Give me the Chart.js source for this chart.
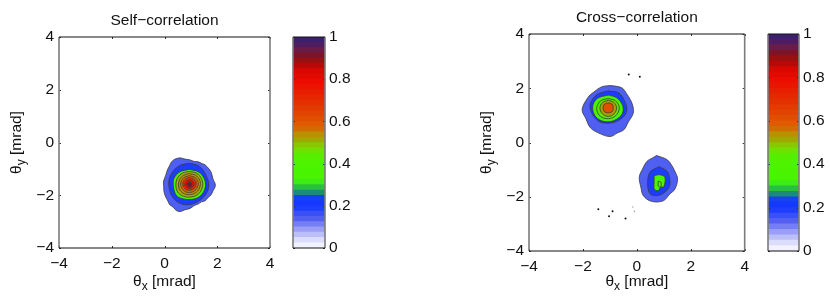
<!DOCTYPE html>
<html>
<head>
<meta charset="utf-8">
<title>Self- and cross-correlation</title>
<script src="https://cdn.jsdelivr.net/npm/chart.js@4/dist/chart.umd.min.js"></script>
<style>
        html, body { margin: 0; padding: 0; background: #fff; }
        body { width: 830px; height: 303px; position: relative; overflow: hidden; }
        canvas { position: absolute; top: 0; }
</style>
</head>
<body>
<canvas id="self_map" width="285" height="303" style="left:0"></canvas>
<canvas id="self_bar" width="75" height="303" style="left:285px"></canvas>
<canvas id="cross_map" width="285" height="303" style="left:470px"></canvas>
<canvas id="cross_bar" width="70" height="303" style="left:760px"></canvas>
<script>
const axis_ticks = [-4, -2, 0, 2, 4];
const bar_ticks = [0, 0.2, 0.4, 0.6, 0.8, 1];

// contour outlines in mrad, [theta_x, theta_y], outermost first
const self_level_1 = [[0.59,-0.58],[0.78,-0.63],[0.97,-0.66],[1.13,-0.72],[1.28,-0.73],[1.42,-0.8],[1.54,-0.85],[1.66,-0.97],[1.76,-1.11],[1.81,-1.27],[1.85,-1.42],[1.92,-1.56],[1.92,-1.68],[1.84,-1.83],[1.76,-1.99],[1.66,-2.08],[1.54,-2.21],[1.4,-2.25],[1.28,-2.33],[1.13,-2.39],[0.97,-2.5],[0.78,-2.55],[0.59,-2.62],[0.45,-2.58],[0.34,-2.46],[0.2,-2.36],[0.11,-2.18],[0.03,-2.03],[-0.02,-1.86],[-0.03,-1.67],[-0.04,-1.49],[0.04,-1.26],[0.11,-1.04],[0.2,-0.86],[0.27,-0.73],[0.42,-0.62]];
const self_level_2 = [[0.9,-0.79],[1.16,-0.83],[1.37,-0.94],[1.57,-1.23],[1.68,-1.61],[1.55,-1.99],[1.19,-2.28],[0.78,-2.36],[0.42,-2.2],[0.21,-1.86],[0.17,-1.42],[0.34,-1.07],[0.59,-0.87]];
const self_level_3 = [[0.94,-1.02],[1.28,-1.11],[1.5,-1.36],[1.55,-1.68],[1.37,-2.02],[1.03,-2.16],[0.65,-2.12],[0.44,-1.99],[0.34,-1.68],[0.36,-1.36],[0.59,-1.11]];
const self_level_4 = [[0.94,-1.1],[1.22,-1.16],[1.4,-1.37],[1.45,-1.62],[1.32,-1.92],[1.04,-2.06],[0.72,-2.04],[0.5,-1.88],[0.43,-1.6],[0.5,-1.33],[0.68,-1.16]];
const self_level_5 = [[0.94,-1.18],[1.18,-1.24],[1.33,-1.42],[1.36,-1.6],[1.26,-1.84],[1.02,-1.97],[0.76,-1.95],[0.58,-1.8],[0.53,-1.58],[0.6,-1.36],[0.73,-1.24]];
const self_level_6 = [[0.94,-1.26],[1.13,-1.31],[1.25,-1.44],[1.28,-1.6],[1.2,-1.78],[1,-1.89],[0.8,-1.87],[0.66,-1.74],[0.61,-1.58],[0.67,-1.4],[0.8,-1.3]];
const self_level_7 = [[0.94,-1.33],[1.09,-1.37],[1.18,-1.47],[1.2,-1.6],[1.14,-1.73],[0.98,-1.81],[0.83,-1.79],[0.73,-1.7],[0.69,-1.58],[0.74,-1.44],[0.84,-1.36]];
const self_level_8 = [[0.94,-1.41],[1.05,-1.44],[1.11,-1.52],[1.12,-1.6],[1.07,-1.69],[0.96,-1.74],[0.86,-1.72],[0.79,-1.66],[0.77,-1.58],[0.81,-1.48],[0.87,-1.43]];
const self_level_9 = [[0.94,-1.5],[1,-1.52],[1.03,-1.58],[1.02,-1.64],[0.96,-1.67],[0.89,-1.65],[0.86,-1.59],[0.88,-1.53]];

const cross_a_level_1 = [[-1,2.1],[-0.75,2.07],[-0.53,2],[-0.38,1.8],[-0.24,1.58],[-0.14,1.31],[-0.14,1.06],[-0.32,0.75],[-0.48,0.47],[-0.73,0.35],[-0.98,0.22],[-1.35,0.32],[-1.72,0.54],[-1.89,0.88],[-2.03,1.22],[-1.8,1.68],[-1.62,1.84],[-1.31,2.05]];
const cross_a_level_2 = [[-1.06,1.9],[-0.69,1.84],[-0.48,1.58],[-0.37,1.21],[-0.53,0.91],[-0.91,0.73],[-1.35,0.75],[-1.62,1],[-1.74,1.37],[-1.56,1.7],[-1.31,1.84]];
const cross_a_level_3 = [[-1.06,1.75],[-0.75,1.65],[-0.53,1.37],[-0.54,1.06],[-0.82,0.82],[-1.19,0.77],[-1.52,0.94],[-1.64,1.31],[-1.47,1.62]];
const cross_a_level_4 = [[-1.06,1.62],[-0.78,1.53],[-0.65,1.27],[-0.78,0.99],[-1.06,0.88],[-1.35,0.96],[-1.49,1.25],[-1.35,1.53]];
const cross_a_level_5 = [[-1.06,1.56],[-0.84,1.47],[-0.75,1.27],[-0.84,1.06],[-1.06,0.96],[-1.28,1.06],[-1.37,1.27],[-1.28,1.47]];
const cross_a_level_6 = [[-1.06,1.46],[-0.91,1.41],[-0.88,1.27],[-0.91,1.14],[-1.06,1.09],[-1.21,1.14],[-1.25,1.27],[-1.21,1.41]];
const cross_b_level_1 = [[0.73,-0.48],[0.91,-0.54],[1.12,-0.63],[1.28,-0.82],[1.41,-1.06],[1.51,-1.35],[1.41,-1.72],[1.22,-1.9],[0.98,-2.15],[0.54,-2.17],[0.24,-1.96],[0.15,-1.65],[0.09,-1.28],[0.21,-0.98],[0.38,-0.69],[0.58,-0.57]];
const cross_b_level_2 = [[0.83,-0.89],[1.12,-1.06],[1.22,-1.35],[1.2,-1.63],[1,-1.86],[0.73,-1.96],[0.48,-1.88],[0.4,-1.47],[0.48,-1.1],[0.64,-0.98]];
const cross_b_level_3 = [[0.64,-1.22],[0.85,-1.19],[1.04,-1.28],[1,-1.63],[0.88,-1.65],[0.79,-1.78],[0.65,-1.72],[0.64,-1.47]];
const cross_b_level_4 = [[0.79,-1.43],[0.89,-1.46],[0.89,-1.63],[0.8,-1.61]];
const cross_specks = [[-0.3,2.51],[0.11,2.42],[-1.43,-2.46],[-0.9,-2.53],[-1.03,-2.72],[-0.42,-2.8]];
const cross_faint_specks = [[-0.15,-2.38],[-0.09,-2.54]];

// colorbar bands, upper edge of each band
const band_tops = [0.025,0.05,0.075,0.1,0.125,0.15,0.175,0.2,0.225,0.25,0.275,0.3,0.325,0.35,0.375,0.4,0.425,0.45,0.475,0.5,0.525,0.55,0.575,0.6,0.625,0.65,0.675,0.7,0.725,0.75,0.775,0.8,0.825,0.85,0.875,0.9,0.925,0.95,0.975,1];
const band_colors = ["#f2f2ff","#dcdcfc","#bcbef9","#9a9ef6","#767ef3","#525ff0","#3850f6","#1d3eff","#1538ff","#1442f0","#1c8c78","#28c040","#3cec14","#48f400","#4af400","#4cf400","#50f200","#58ec00","#70e000","#88c800","#a0a800","#b89000","#d06c00","#e05a00","#e04e00","#e04400","#e23a00","#e43000","#e62800","#e81e00","#ea1400","#ec0c00","#e20a00","#d80800","#b80808","#981010","#7c1428","#6a1c48","#4e1c60","#3c2070"];

// fill of each contour band
const self_fills = ["#4f5ff2","#1c3cff","#48f400","#a0b000","#b89000","#d86800","#e43000","#e00c00","#701838"];
const cross_a_fills = ["#4f5ff2","#1c3cff","#48f400","#60e800","#a8a000","#e05000"];
const cross_b_fills = ["#4f5ff2","#1c3cff","#48f400","#60e800"];

function contour_datasets(levels, fills) {
        var sets = [];
        for (let i = 0; i < levels.length; i++) {
                sets.push({
                        data: levels[i].concat([levels[i][0]]), // close the outline
                        showLine: true,
                        fill: "shape",
                        tension: 0.35,
                        backgroundColor: fills[i],
                        borderColor: "#3a3a3a",
                        borderWidth: 0.8,
                        pointRadius: 0,
                        order: 1000 - i,
                });
        }
        return sets;
}

function speck_dataset(points, color, size) {
        return { data: points, showLine: false, pointRadius: size, pointBorderWidth: 0, pointBackgroundColor: color, order: 1 };
}

function minus(v) {
        return String(v).replace("-", "\u2212");
}

// matlab style frame: inward ticks on both sides
const frame_plugin = {
        id: "frame",
        afterDraw(chart) {
                const a = chart.chartArea;
                const ctx = chart.ctx;
                ctx.save();
                ctx.strokeStyle = "#333";
                ctx.lineWidth = 1;
                for (const key in chart.scales) {
                        const s = chart.scales[key];
                        if (!s.options.display) continue;
                        for (const t of s.ticks) {
                                const p = Math.round(s.getPixelForValue(t.value)) + 0.5;
                                ctx.beginPath();
                                if (s.isHorizontal()) {
                                        ctx.moveTo(p, a.top); ctx.lineTo(p, a.top + 2);
                                        ctx.moveTo(p, a.bottom); ctx.lineTo(p, a.bottom - 2);
                                } else {
                                        ctx.moveTo(a.left, p); ctx.lineTo(a.left + 2, p);
                                        ctx.moveTo(a.right, p); ctx.lineTo(a.right - 2, p);
                                }
                                ctx.stroke();
                        }
                }
                ctx.strokeStyle = "#7c7c7c";
                ctx.lineWidth = 1.6;
                ctx.beginPath();
                ctx.moveTo(a.left, a.top); ctx.lineTo(a.left, a.bottom);
                ctx.moveTo(a.right, a.top); ctx.lineTo(a.right, a.bottom);
                ctx.stroke();
                ctx.strokeStyle = "#111";
                ctx.lineWidth = 1;
                ctx.beginPath();
                ctx.moveTo(a.left, a.top); ctx.lineTo(a.right, a.top);
                ctx.moveTo(a.left, a.bottom); ctx.lineTo(a.right, a.bottom);
                ctx.stroke();
                ctx.restore();
        }
};

// axis names need a subscript, which scale titles can't do
const labels_plugin = {
        id: "labels",
        afterDraw(chart) {
                const a = chart.chartArea;
                const ctx = chart.ctx;
                const big = "15.5px 'Liberation Sans'";
                const small = "12px 'Liberation Sans'";
                function label(sub) {
                        ctx.font = big;
                        const w1 = ctx.measureText("\u03b8").width;
                        const w3 = ctx.measureText(" [mrad]").width;
                        ctx.font = small;
                        const w2 = ctx.measureText(sub).width;
                        let x = -(w1 + w2 + w3) / 2;
                        ctx.textBaseline = "alphabetic";
                        ctx.textAlign = "left";
                        ctx.fillStyle = "#111";
                        ctx.font = big;
                        ctx.fillText("\u03b8", x, 0);
                        ctx.font = small;
                        ctx.fillText(sub, x + w1, 4);
                        ctx.font = big;
                        ctx.fillText(" [mrad]", x + w1 + w2, 0);
                }
                ctx.save();
                ctx.translate((a.left + a.right) / 2, 286);
                label("x");
                ctx.restore();
                ctx.save();
                ctx.translate(20.5, (a.top + a.bottom) / 2);
                ctx.rotate(-Math.PI / 2);
                label("y");
                ctx.restore();
        }
};

function init_map(name, title, datasets, box) {
        new Chart(name, {
                type: "scatter",
                data: { datasets: datasets },
                plugins: [frame_plugin, labels_plugin],
                options: {
                        responsive: false,
                        animation: false,
                        devicePixelRatio: 1,
                        layout: { padding: { left: 0, right: box.right, top: 0, bottom: 0 } },
                        plugins: {
                                legend: { display: false },
                                tooltip: { enabled: false },
                                title: {
                                        display: true,
                                        text: title,
                                        fullSize: false,
                                        color: "#111",
                                        font: { family: "'Liberation Sans'", size: 15.5, weight: "normal", lineHeight: 1 },
                                        padding: { top: box.title_top, bottom: box.top - box.title_top - 15.5 }
                                }
                        },
                        scales: {
                                x: {
                                        type: "linear", min: -4, max: 4,
                                        grid: { display: false, drawTicks: false },
                                        border: { display: false },
                                        afterBuildTicks: s => { s.ticks = axis_ticks.map(v => ({ value: v })); },
                                        afterFit: s => { s.height = 303 - box.bottom; },
                                        ticks: { color: "#111", padding: 6, maxRotation: 0, callback: minus, font: { family: "'Liberation Sans'", size: 15.5 } }
                                },
                                y: {
                                        type: "linear", min: -4, max: 4,
                                        grid: { display: false, drawTicks: false },
                                        border: { display: false },
                                        afterBuildTicks: s => { s.ticks = axis_ticks.map(v => ({ value: v })); },
                                        afterFit: s => { s.width = box.left; },
                                        ticks: { color: "#111", padding: 5, callback: minus, font: { family: "'Liberation Sans'", size: 15.5 } }
                                }
                        }
                }
        });
}

function init_bar(name, box) {
        var sets = [];
        for (let i = 0; i < band_tops.length; i++) {
                sets.push({ data: [band_tops[i]], backgroundColor: band_colors[i], borderWidth: 0, grouped: false, barPercentage: 1, categoryPercentage: 1 });
        }
        new Chart(name, {
                type: "bar",
                data: { labels: [""], datasets: sets },
                plugins: [frame_plugin],
                options: {
                        responsive: false,
                        animation: false,
                        devicePixelRatio: 1,
                        layout: { padding: { left: box.left, top: box.top, right: 0, bottom: 303 - box.bottom } },
                        plugins: { legend: { display: false }, tooltip: { enabled: false } },
                        scales: {
                                x: { display: false },
                                y: {
                                        position: "right",
                                        min: 0, max: 1,
                                        grid: { display: false, drawTicks: false },
                                        border: { display: false },
                                        afterBuildTicks: s => { s.ticks = bar_ticks.map(v => ({ value: v })); },
                                        afterFit: s => { s.width = box.label_width; },
                                        ticks: { color: "#111", padding: 4, callback: v => String(v), font: { family: "'Liberation Sans'", size: 15.5 } }
                                }
                        }
                }
        });
}

init_map("self_map", "Self\u2212correlation",
        contour_datasets([self_level_1, self_level_2, self_level_3, self_level_4, self_level_5, self_level_6, self_level_7, self_level_8, self_level_9], self_fills),
        { left: 59, right: 15, top: 37, bottom: 248, title_top: 13 });

init_map("cross_map", "Cross\u2212correlation",
        contour_datasets([cross_a_level_1, cross_a_level_2, cross_a_level_3, cross_a_level_4, cross_a_level_5, cross_a_level_6], cross_a_fills)
                .concat(contour_datasets([cross_b_level_1, cross_b_level_2, cross_b_level_3, cross_b_level_4], cross_b_fills))
                .concat([speck_dataset(cross_specks, "#111", 1), speck_dataset(cross_faint_specks, "#aaa", 0.8)]),
        { left: 59, right: 10, top: 34, bottom: 251, title_top: 10 });

init_bar("self_bar", { left: 8, top: 37, bottom: 248, label_width: 35 });
init_bar("cross_bar", { left: 8, top: 34, bottom: 251, label_width: 31 });
</script>
</body>
</html>
